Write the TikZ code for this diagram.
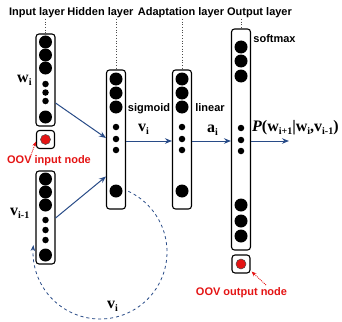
\documentclass[tikz,border=0pt]{standalone}
\usepackage{fontspec}
\setmainfont{Liberation Serif}
\setsansfont{Liberation Sans}
\usetikzlibrary{arrows.meta}
\definecolor{arrblue}{RGB}{40,75,135}
\definecolor{oovred}{RGB}{228,20,20}
\newcommand\subs[1]{\raisebox{-3.5pt}{\fontsize{10}{10}\selectfont #1}}
\begin{document}
\begin{tikzpicture}[x=1pt,y=-1pt,
 layerbox/.style={draw, rounded corners=3pt, line width=1.1pt, minimum width=19pt, inner sep=0pt},
 oovbox/.style={draw, rounded corners=3pt, line width=1.1pt, minimum width=18pt, minimum height=18pt, inner sep=0pt},
 bigdot/.style={circle, fill=black, minimum size=13pt, inner sep=0pt},
 smalldot/.style={circle, fill=black, minimum size=6.5pt, inner sep=0pt},
 reddot/.style={circle, fill=oovred, draw=black!70, line width=0.5pt, minimum size=10pt, inner sep=0pt},
 title/.style={font=\sffamily\bfseries\fontsize{11}{11}\selectfont, inner sep=0pt},
 redlabel/.style={font=\sffamily\bfseries\fontsize{11}{11}\selectfont, text=oovred, inner sep=0pt},
 act/.style={font=\sffamily\bfseries\fontsize{11}{11}\selectfont, inner sep=0pt},
 var/.style={font=\bfseries\fontsize{16}{16}\selectfont, inner sep=0pt, anchor=base west},
 flow/.style={draw=arrblue, line width=1pt, -{Stealth[length=7pt,width=5.5pt]}},
 guide/.style={draw=black!70, dotted, line width=0.7pt},
 oovarrow/.style={draw=oovred, densely dotted, line width=0.9pt, -{Stealth[length=5pt,width=4pt]}},
 loopline/.style={draw=arrblue, dashed, line width=0.8pt, -{Stealth[length=6pt,width=4.5pt]}}
]
\useasboundingbox (0,0) rectangle (342,321);

% titles
\node[title] (tI) at (37,13) {Input layer};
\node[title] (tH) at (100.5,13) {Hidden layer};
\node[title] (tA) at (181,13) {Adaptation layer};
\node[title] (tO) at (259.5,13) {Output layer};

% layer boxes
\node[layerbox, minimum height=92pt] (W) at (45.5,80) {};
\node[oovbox] (OI) at (45.5,139.5) {};
\node[layerbox, minimum height=93pt] (V) at (45.5,217.5) {};
\node[layerbox, minimum height=139pt] (H) at (116,139.5) {};
\node[layerbox, minimum height=139pt] (A) at (182,139.5) {};
\node[layerbox, minimum height=221pt] (O) at (241,139.5) {};
\node[oovbox] (OO) at (241,264) {};

% units
\foreach \y [count=\i] in {42,55,68,117} \node[bigdot] (wb\i) at (45.5,\y) {};
\foreach \y [count=\i] in {84,92.5,101} \node[smalldot] (ws\i) at (45.5,\y) {};
\node[reddot] (oir) at (OI) {};
\foreach \y [count=\i] in {179,192,205,255} \node[bigdot] (vb\i) at (45.5,\y) {};
\foreach \y [count=\i] in {220,230,240} \node[smalldot] (vs\i) at (45.5,\y) {};
\foreach \y [count=\i] in {79,93,107,191} \node[bigdot] (hb\i) at (116,\y) {};
\foreach \y [count=\i] in {127,139,150} \node[smalldot] (hs\i) at (116,\y) {};
\foreach \y [count=\i] in {79,93,107,191} \node[bigdot] (ab\i) at (182,\y) {};
\foreach \y [count=\i] in {127,139,150} \node[smalldot] (as\i) at (182,\y) {};
\foreach \y [count=\i] in {47,61,76,205,221,236} \node[bigdot] (ob\i) at (241,\y) {};
\foreach \y [count=\i] in {128,140,151} \node[smalldot] (os\i) at (241,\y) {};
\node[reddot] (oor) at (OO) {};

% guides
\coordinate (gI) at (45.5,19);
\coordinate (gH) at (116,19);
\coordinate (gA) at (182,19);
\coordinate (gO) at (241,19);
\draw[guide] (gI) -- (W.north);
\draw[guide] (gH) -- (H.north);
\draw[guide] (gA) -- (A.north);
\draw[guide] (gO) -- (O.north);

% flows
\coordinate (pout) at (289,141);
\draw[flow] ([yshift=-23pt]W.east) -- ([yshift=1.5pt]H.west);
\draw[flow] ([yshift=-0.5pt]V.east) -- ([yshift=-37pt]H.west);
\draw[flow] ([yshift=-1.5pt]H.east) -- ([yshift=-1.5pt]A.west);
\draw[flow] ([yshift=-1.5pt]A.east) -- ([yshift=-1.5pt]O.west);
\draw[flow] ([yshift=-1.5pt]O.east) -- (pout);

% recurrent loop
\draw[loopline] plot[domain=65:-186, samples=90, smooth] ({100+67*cos(\x)},{252-67*sin(\x)});

% activation labels
\node[act] (lsig) at (149,109) {sigmoid};
\node[act] (llin) at (210,108) {linear};
\node[act] (lsoft) at (274.5,39) {softmax};

% variable labels
\node[var] (lw) at (17,82) {w\subs{i}};
\node[var] (lv1) at (10,215) {v\subs{i-1}};
\node[var] (lvi) at (138,131) {v\subs{i}};
\node[var] (lai) at (207,132) {a\subs{i}};
\node[var] (lvb) at (107,308) {v\subs{i}};
\node[var] (lp) at (252,131) {{\itshape P}(w\subs{i+1}|w\subs{i},v\subs{i-1})};

% OOV labels
\node[redlabel] (loi) at (49,161) {OOV input node};
\node[redlabel] (loo) at (241.5,293) {OOV output node};
\coordinate (aoi) at (31,155);
\coordinate (aoo) at (266,285);
\draw[oovarrow] (aoi) -- ([yshift=-2pt]OI.west);
\draw[oovarrow] (aoo) -- ([xshift=1pt,yshift=2pt]OO.south east);
\end{tikzpicture}
\end{document}
